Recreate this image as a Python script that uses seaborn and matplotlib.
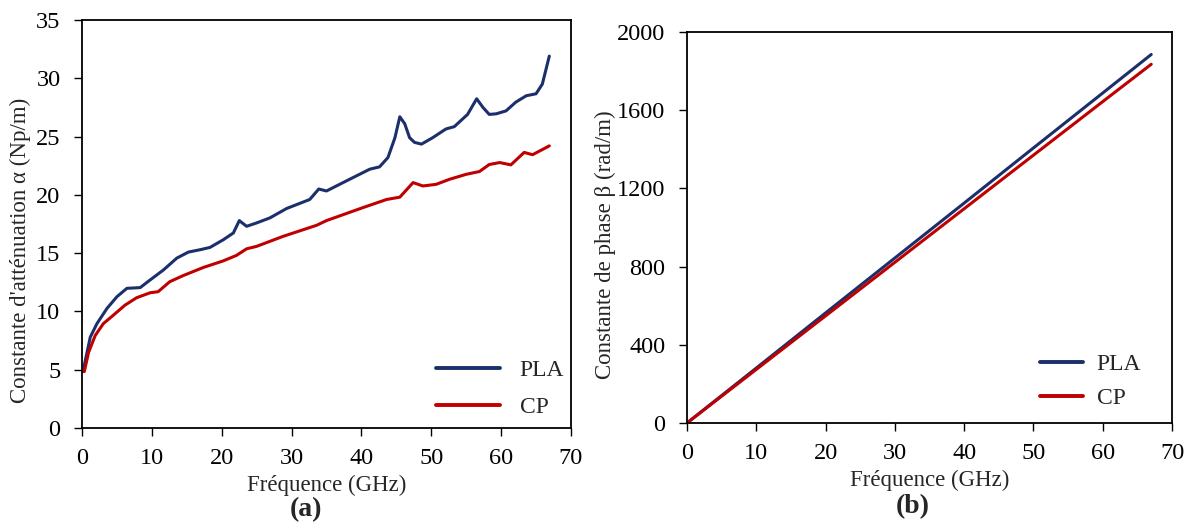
import numpy as np
import pandas as pd
import matplotlib
matplotlib.use("Agg")
import matplotlib.pyplot as plt
import seaborn as sns

# Attenuation constant (a)
freq_pla_a = [0.14, 1.19, 2.14, 3.57, 5.0, 6.43, 8.33, 9.76, 11.67, 13.57, 15.24,
              16.9, 18.33, 20.24, 21.67, 22.52, 23.57, 25.0, 26.9, 29.3, 32.6,
              33.9, 35.0, 38.3, 41.2, 42.6, 43.8, 44.8, 45.5, 46.2, 46.9, 47.6,
              48.6, 50.2, 52.1, 53.3, 55.2, 56.5, 57.4, 58.3, 59.3, 60.7, 62.1,
              63.6, 65.0, 65.9, 66.9]
alpha_pla = [4.84, 7.8, 8.95, 10.25, 11.26, 11.98, 12.04, 12.7, 13.56, 14.57, 15.09,
             15.29, 15.49, 16.15, 16.73, 17.79, 17.3, 17.59, 18.02, 18.83, 19.6,
             20.5, 20.33, 21.33, 22.2, 22.4, 23.2, 24.9, 26.7, 26.1, 24.9, 24.5,
             24.35, 24.9, 25.65, 25.85, 26.9, 28.24, 27.5, 26.9, 26.95, 27.2, 27.95,
             28.5, 28.67, 29.5, 31.9]

freq_cp_a = [0.33, 0.95, 1.9, 3.05, 4.48, 6.14, 7.81, 9.76, 10.9, 12.57, 14.48,
             17.33, 20.2, 22.1, 23.57, 25.0, 28.8, 33.6, 35.0, 40.2, 43.6, 45.5,
             47.4, 48.8, 50.7, 52.6, 55.0, 56.9, 58.3, 59.8, 61.4, 63.3, 64.5, 66.9]
alpha_cp = [4.84, 6.5, 7.94, 8.95, 9.67, 10.53, 11.17, 11.6, 11.69, 12.55, 13.07,
            13.76, 14.33, 14.8, 15.37, 15.58, 16.44, 17.39, 17.79, 18.9, 19.6, 19.8,
            21.05, 20.76, 20.9, 21.33, 21.76, 22.0, 22.6, 22.77, 22.57, 23.64, 23.44,
            24.2]

# Phase constant (b)
freq_b = [0, 10, 20, 30, 40, 50, 60, 67]
beta_pla = [0, 281, 563, 844, 1125, 1407, 1688, 1885]
beta_cp = [0, 274, 548, 822, 1096, 1370, 1644, 1835]

colors = {"PLA": "#1b2f6b", "CP": "#c00000"}

df_a = pd.concat([
    pd.DataFrame({"f": freq_pla_a, "v": alpha_pla, "mat": "PLA"}),
    pd.DataFrame({"f": freq_cp_a, "v": alpha_cp, "mat": "CP"}),
])
df_b = pd.concat([
    pd.DataFrame({"f": freq_b, "v": beta_pla, "mat": "PLA"}),
    pd.DataFrame({"f": freq_b, "v": beta_cp, "mat": "CP"}),
])

sns.set_theme(style="ticks")
plt.rcParams['font.family'] = ['Liberation Serif', 'DejaVu Serif']

fig = plt.figure(figsize=(11.9, 5.23), dpi=100)
ax1 = fig.add_axes([0.0689, 0.1817, 0.4109, 0.7801])
ax2 = fig.add_axes([0.5773, 0.1912, 0.4076, 0.7476])

# ax, data, ylim, yticks, ylabel, ylabel pos, xlabel y, tag, tag pos,
# legend anchor, handlelength, handletextpad, labelspacing
panels = [
    (ax1, df_a, (0, 35), np.arange(0, 36, 5), "Constante d'atténuation α (Np/m)",
     (-0.104, 0.436), -0.115, "(a)", (0.458, -0.2), (0.724, 0.168), 2.7, 0.85, 0.66),
    (ax2, df_b, (0, 2000), np.arange(0, 2001, 400), "Constante de phase β (rad/m)",
     (-0.146, 0.455), -0.12, "(b)", (0.466, -0.215), (0.728, 0.177), 1.8, 0.6, 0.51),
]

for ax, d, ylim, yticks, ylabel, ylpos, xly, tag, tagpos, anchor, hl, htp, ls in panels:
    sns.lineplot(data=d, x="f", y="v", hue="mat", palette=colors, ax=ax,
                 linewidth=2.2, sort=False, estimator=None)
    ax.set_xlim(0, 70)
    ax.set_ylim(*ylim)
    ax.set_xticks(np.arange(0, 71, 10))
    ax.set_yticks(yticks)
    ax.tick_params(direction='out', length=5.5, width=1, labelsize=17.5, colors='black',
                   top=False, right=False, pad=9)
    ax.tick_params(axis='y', pad=10)
    for s in ax.spines.values():
        s.set_visible(True)
        s.set_color('black')
        s.set_linewidth(1.3)
    ax.set_xlabel("Fréquence (GHz)", fontsize=16.5)
    ax.set_ylabel(ylabel, fontsize=16.5)
    ax.xaxis.set_label_coords(0.5, xly)
    ax.yaxis.set_label_coords(*ylpos)
    leg = ax.legend(loc='upper left', frameon=False, fontsize=17, handlelength=hl,
                    handletextpad=htp, labelspacing=ls, borderpad=0, borderaxespad=0,
                    bbox_to_anchor=anchor)
    for line in leg.get_lines():
        line.set_linewidth(2.8)
    ax.text(tagpos[0], tagpos[1], tag, transform=ax.transAxes, ha='center', va='center',
            fontsize=20, fontweight='bold')

fig.savefig("out.png", dpi=100)
